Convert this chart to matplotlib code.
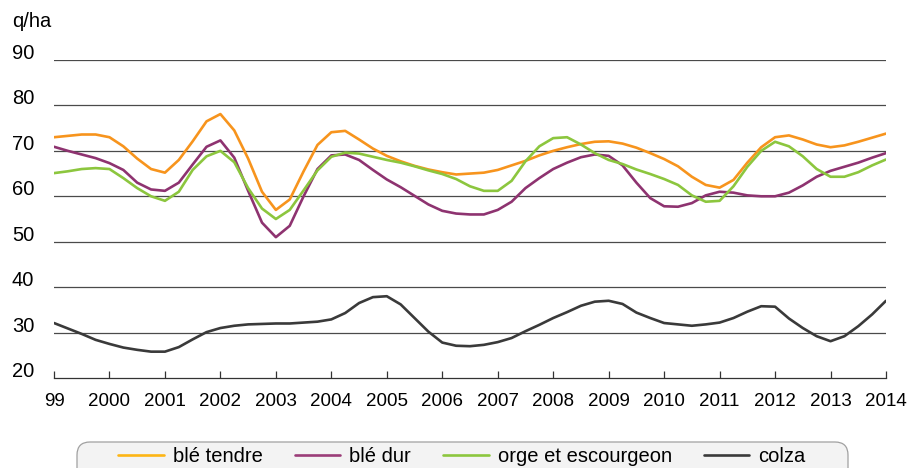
import matplotlib.pyplot as plt
import numpy as np
from matplotlib.patches import FancyBboxPatch

plt.rcParams['font.family'] = ['Liberation Sans', 'DejaVu Sans']

# quarterly readings, 1999 Q1 .. 2014 Q1 (q/ha)
x = 1999 + np.arange(61) / 4.0

ble_tendre = [73.0, 73.3, 73.6, 73.6, 73.0, 71.0, 68.3, 66.0, 65.2, 68.0,
              72.1, 76.5, 78.1, 74.5, 68.3, 61.0, 57.0, 59.3, 65.5, 71.3,
              74.1, 74.4, 72.5, 70.5, 68.9, 67.7, 66.7, 65.9, 65.3, 64.8,
              65.0, 65.2, 65.8, 66.8, 67.8, 69.0, 70.0, 70.8, 71.5, 72.0,
              72.1, 71.6, 70.7, 69.5, 68.2, 66.6, 64.3, 62.5, 61.9, 63.6,
              67.4, 70.8, 73.0, 73.4, 72.5, 71.4, 70.8, 71.2, 72.0, 72.9,
              73.8]
ble_dur = [70.9, 70.0, 69.2, 68.4, 67.3, 65.8, 63.0, 61.5, 61.2, 63.0,
           67.0, 70.9, 72.3, 68.5, 61.2, 54.2, 51.0, 53.5, 60.0, 66.0,
           69.0, 69.2, 68.0, 65.8, 63.7, 62.0, 60.1, 58.2, 56.8, 56.2,
           56.0, 56.0, 57.0, 58.8, 61.8, 64.0, 66.0, 67.4, 68.6, 69.2,
           68.9, 66.8, 63.0, 59.6, 57.8, 57.7, 58.5, 60.2, 61.0, 60.8,
           60.2, 60.0, 60.0, 60.8, 62.4, 64.3, 65.6, 66.5, 67.4, 68.5,
           69.5]
orge = [65.1, 65.5, 66.0, 66.2, 66.0, 64.0, 61.8, 60.0, 59.0, 61.0,
        65.8, 68.8, 70.0, 67.5, 61.8, 57.3, 55.0, 57.0, 61.3, 65.7,
        68.7, 69.6, 69.4, 68.7, 68.0, 67.4, 66.6, 65.7, 64.9, 63.8,
        62.2, 61.2, 61.2, 63.4, 67.7, 71.0, 72.8, 73.0, 71.4, 69.5,
        68.0, 67.1, 65.9, 64.9, 63.8, 62.5, 60.2, 58.8, 59.0, 62.2,
        66.5, 70.0, 72.0, 71.0, 68.8, 66.0, 64.3, 64.3, 65.3, 66.8,
        68.1]
colza = [32.1, 30.9, 29.7, 28.4, 27.5, 26.7, 26.2, 25.8, 25.8, 26.8,
         28.5, 30.1, 31.0, 31.5, 31.8, 31.9, 32.0, 32.0, 32.2, 32.4,
         32.9, 34.3, 36.5, 37.8, 38.0, 36.2, 33.2, 30.2, 27.8, 27.1,
         27.0, 27.3, 27.9, 28.8, 30.3, 31.7, 33.2, 34.5, 35.9, 36.8,
         37.0, 36.3, 34.4, 33.2, 32.1, 31.8, 31.5, 31.8, 32.2, 33.2,
         34.6, 35.8, 35.7, 33.1, 31.0, 29.2, 28.1, 29.2, 31.4, 34.0,
         37.0]

years = list(range(1999, 2015))
year_labels = ['99'] + [str(y) for y in years[1:]]
yticks = [20, 30, 40, 50, 60, 70, 80, 90]

fig = plt.figure(figsize=(9.08, 4.68), dpi=100)
ax = fig.add_axes([54/908, 90/468, 832/908, 318/468])

kw = dict(lw=1.9, solid_joinstyle='round', solid_capstyle='round')
ax.plot(x, ble_tendre, color='#f7941d', label='blé tendre', **kw)
ax.plot(x, ble_dur, color='#8e3370', label='blé dur', **kw)
ax.plot(x, orge, color='#8cc63e', label='orge et escourgeon', **kw)
ax.plot(x, colza, color='#3a3a3a', label='colza', **kw)

ax.set_xlim(1999, 2014)
ax.set_ylim(20, 90)
for v in yticks[1:]:
    ax.axhline(v, color='#4a4a4a', lw=0.9, zorder=0)
for v in yticks:
    ax.annotate(str(v), xy=(-42/832, v), xycoords=ax.get_yaxis_transform(),
                xytext=(0, 1), textcoords='offset pixels',
                ha='left', va='baseline', fontsize=14.5)
ax.set_yticks([])

for s in ['top', 'right', 'left']:
    ax.spines[s].set_visible(False)
ax.spines['bottom'].set_color('#333333')
ax.spines['bottom'].set_linewidth(0.9)
ax.set_xticks(years)
ax.set_xticklabels(year_labels, fontsize=13.5)
ax.tick_params(axis='x', direction='in', length=5, width=0.9,
               color='#333333', pad=10.5)

fig.text(12/908, 1 - 27/468, 'q/ha', fontsize=14.5, ha='left', va='baseline')

# legend box (rounded, cut by the bottom edge)
box = FancyBboxPatch((0.77, -0.15), 7.71, 0.41,
                     boxstyle='round,pad=0,rounding_size=0.13',
                     transform=fig.dpi_scale_trans, facecolor='#f3f3f3',
                     edgecolor='#a0a0a0', lw=0.9, zorder=0)
fig.add_artist(box)

handles, labels = ax.get_legend_handles_labels()
leg_colors = ['#fdb515', '#9b3d78', '#8cc63e', '#3a3a3a']
leg = fig.legend(handles, labels, ncol=4, loc='center',
                 bbox_to_anchor=(462/908, 11/468), frameon=False,
                 fontsize=14.5, handlelength=2.25, handletextpad=0.45,
                 columnspacing=1.6)
for h, c in zip(leg.legend_handles, leg_colors):
    h.set_color(c)

fig.savefig('out.png', dpi=100)
